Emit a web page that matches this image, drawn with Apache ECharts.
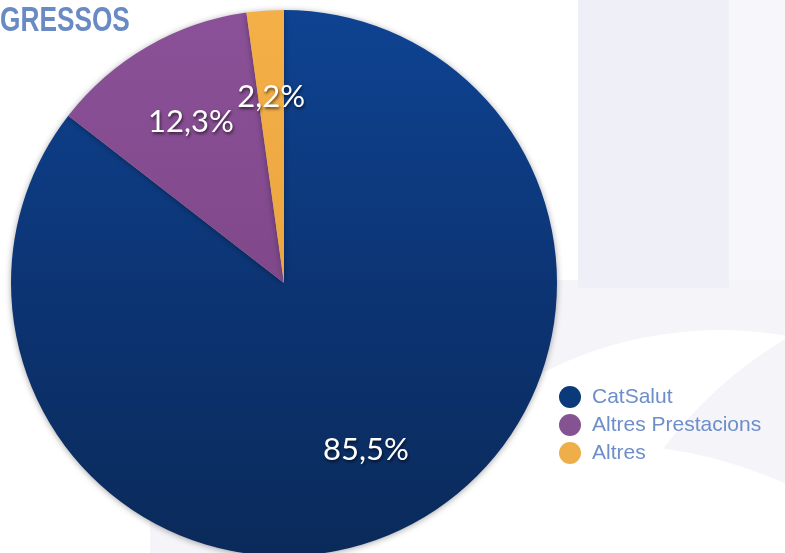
<!DOCTYPE html>
<html>
<head>
<meta charset="utf-8">
<script src="https://cdn.jsdelivr.net/npm/echarts@6/dist/echarts.min.js"></script>
<style>
html,body{margin:0;padding:0;background:#fff;}
#c{width:785px;height:553px;}
</style>
</head>
<body>
<div id="c"></div>
<script>
const categories = ['CatSalut', 'Altres Prestacions', 'Altres'];
const values = [85.5, 12.3, 2.2];
const labels = ['85,5%', '12,3%', '2,2%'];
const titleText = 'GRESSOS';

const legendColors = ['#0b3a7a', '#855391', '#eeae4a'];
const sliceColors = [
  {type:'linear', x:0, y:10, x2:0, y2:556, global:true,
   colorStops:[{offset:0,color:'#0e4392'},{offset:0.55,color:'#0c3371'},{offset:1,color:'#0a2a5a'}]},
  {type:'linear', x:0, y:10, x2:0, y2:283, global:true,
   colorStops:[{offset:0,color:'#8b5198'},{offset:1,color:'#80488a'}]},
  {type:'linear', x:0, y:10, x2:0, y2:283, global:true,
   colorStops:[{offset:0,color:'#f4af47'},{offset:1,color:'#eba640'}]}
];

const chart = echarts.init(document.getElementById('c'), null, {renderer:'canvas'});

const mainData = categories.map((n,i)=>({name:n, value:values[i], itemStyle:{color:sliceColors[i]}}));
const labelData = categories.map((n,i)=>({name:n, value:values[i], label:{formatter:labels[i]}}));

chart.setOption({
  backgroundColor:'#ffffff',
  animation:false,
  graphic:[
    {type:'rect', z:-10, shape:{x:150,y:280,width:635,height:273}, style:{fill:'#f4f4f9'}},
    {type:'rect', z:-10, shape:{x:729,y:0,width:56,height:280}, style:{fill:'#f7f7fb'}},
    {type:'rect', z:-9, shape:{x:578,y:0,width:151,height:288}, style:{fill:'#eff0f7'}},
    {type:'circle', z:-8, shape:{cx:720,cy:720,r:390}, style:{fill:'#ffffff'}},
    {type:'circle', z:-7, shape:{cx:1000,cy:700,r:420}, style:{fill:'#f4f4f9'}},
    {type:'circle', z:-6, shape:{cx:600,cy:900,r:456}, style:{fill:'#ffffff'}},
    {type:'text', z:10, left:0, top:4, scaleX:0.75,
     style:{text:titleText, fill:'#6a8ac4', font:'bold 35px "Liberation Sans", Arial, sans-serif'}}
  ],
  legend:{
    orient:'vertical', left:559, top:386, padding:0,
    icon:'circle', itemWidth:22, itemHeight:22, itemGap:6,
    selectedMode:false,
    textStyle:{color:'#6d8ec9', fontSize:21, fontFamily:'"Liberation Sans", Arial, sans-serif', padding:[0,0,0,6]},
    data:categories.map((n,i)=>({name:n, itemStyle:{color:legendColors[i]}}))
  },
  series:[
    {
      type:'pie', center:[284,283], radius:273, startAngle:90, clockwise:true,
      silent:true, label:{show:false}, labelLine:{show:false},
      itemStyle:{shadowColor:'rgba(0,0,0,0.35)', shadowBlur:6, shadowOffsetY:1},
      data:mainData
    },
    {
      type:'pie', center:[284,283], radius:[93,273], startAngle:90, clockwise:true,
      silent:true, legendHoverLink:false,
      itemStyle:{color:'rgba(0,0,0,0)'},
      label:{show:true, position:'inside', color:'#ffffff', fontSize:31,
             fontFamily:'Lato, "Open Sans", sans-serif',
             textShadowColor:'rgba(0,0,0,0.6)', textShadowBlur:3, textShadowOffsetX:1, textShadowOffsetY:2},
      labelLine:{show:false},
      data:labelData
    }
  ]
});
</script>
</body>
</html>
